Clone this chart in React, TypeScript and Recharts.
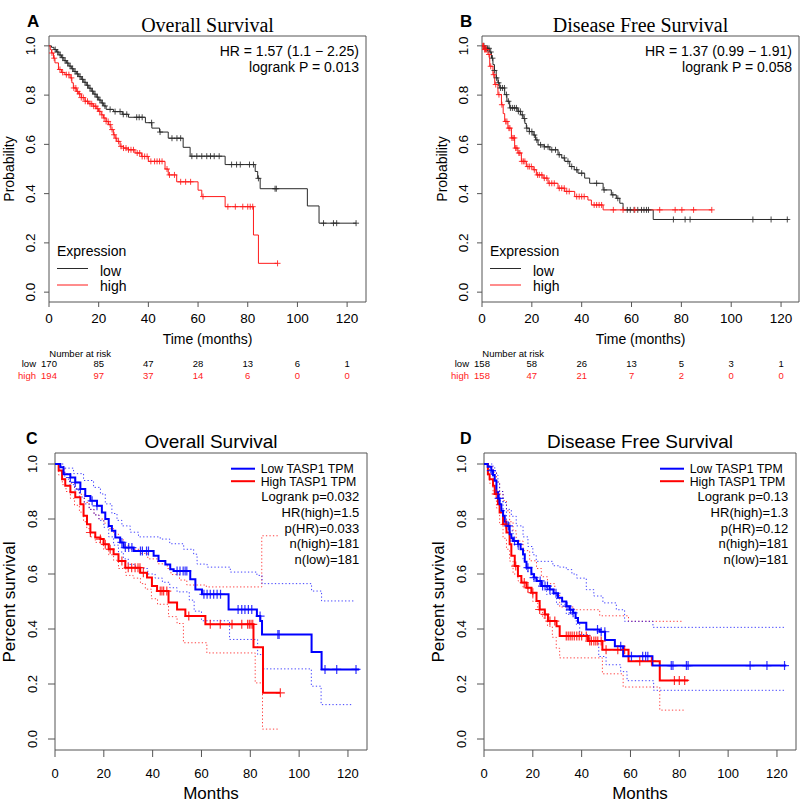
import React from 'react';
import { ComposedChart, Line, XAxis, YAxis, ReferenceArea } from 'recharts';

type Pt = [number, number];

const FONT = '"Liberation Sans", Arial, sans-serif';
const SERIF = '"Liberation Serif", "Times New Roman", serif';

const monthTicks = [0, 20, 40, 60, 80, 100, 120];
const probTicks = [0, 0.2, 0.4, 0.6, 0.8, 1.0];

// ---------- Panel A: Overall Survival (KM plotter) ----------
const aLowSteps: Pt[] = [[0,1],[1,0.994],[2,0.985],[3,0.975],[4,0.963],[5,0.952],[6,0.94],[7,0.93],[8,0.918],[9,0.907],[10,0.896],[11,0.886],[12,0.875],[13,0.864],[14,0.852],[15,0.84],[16,0.828],[17,0.816],[18,0.804],[19,0.792],[20,0.78],[21,0.768],[22,0.756],[23,0.742],[26,0.733],[29.5,0.722],[32,0.71],[38.8,0.688],[41.4,0.666],[44.5,0.65],[48,0.625],[54,0.588],[56.8,0.552],[70.9,0.518],[83,0.49],[84,0.462],[85,0.42],[104,0.35],[108.7,0.28],[123.6,0.28]];
const aLowCensor = [2.5,3.5,4.5,5.5,6.5,7.5,8.5,9.5,10.5,11.5,12.5,13.5,14.5,15.5,16.5,17.5,18.5,19.5,20.5,21.5,22.5,24.6,26.6,28.6,29.9,31.3,35.3,36.3,37.5,41.3,44.7,49.5,51.5,53,57.5,59.5,61.5,63.5,65,66.5,68.5,73.5,75.5,77,80.7,82.3,84.3,91,91.5,110.5,114.5,115.8,123.6];
const aHighSteps: Pt[] = [[0,1],[0.5,0.985],[1,0.971],[1.8,0.95],[2.4,0.931],[3.8,0.904],[5,0.892],[6.4,0.883],[8.5,0.87],[9.2,0.85],[9.8,0.829],[11,0.815],[11.8,0.805],[13,0.79],[14.5,0.775],[16,0.765],[17.8,0.755],[19,0.745],[19.9,0.734],[21,0.72],[21.9,0.707],[23,0.693],[23.9,0.68],[24.9,0.66],[25.9,0.639],[26.6,0.625],[27.3,0.612],[28.6,0.592],[30,0.585],[31.9,0.578],[34.6,0.565],[37.3,0.551],[40,0.531],[46.7,0.5],[48,0.476],[51.4,0.448],[60,0.414],[61.5,0.388],[70.9,0.347],[82.3,0.232],[84.3,0.117],[91.7,0.117]];
const aHighCensor = [1.2,2.1,4.4,5.5,7,8,9,10,10.8,11.5,12.3,13,13.8,14.6,15.5,16.5,17.2,18,18.8,19.6,20.4,21.3,22.2,23,23.8,24.6,25.4,26.2,27,28,29,30,31,32,33,34,35.5,36.5,37.5,38.5,39.5,41,42.5,43.5,44.5,45.5,47.5,48.5,50.5,53,55,57,62,72,75,78,80,81,82,92];
const aRiskLow = [170, 85, 47, 28, 13, 6, 1];
const aRiskHigh = [194, 97, 37, 14, 6, 0, 0];

// ---------- Panel B: Disease Free Survival (KM plotter) ----------
const bLowSteps: Pt[] = [[0,1],[1,0.99],[3.1,0.975],[3.8,0.95],[4.4,0.924],[5,0.9],[5.7,0.87],[6.4,0.85],[7.1,0.829],[9.1,0.802],[10,0.775],[11.1,0.748],[14.4,0.734],[15.5,0.72],[16.5,0.705],[17.2,0.685],[17.8,0.666],[19,0.652],[20.5,0.638],[21.5,0.618],[22.5,0.598],[25,0.59],[27.2,0.578],[30.5,0.558],[32,0.545],[33.2,0.531],[35.2,0.51],[37,0.497],[38.5,0.483],[41.2,0.463],[43.2,0.442],[48.6,0.415],[51.9,0.395],[53.9,0.381],[55.3,0.361],[56.6,0.334],[68.7,0.295],[123.1,0.295]];
const bLowCensor = [0.8,1.5,2.2,2.8,3.5,4.2,5,5.8,6.6,7.4,8.2,9,9.8,10.6,11.4,12.2,13,13.8,14.6,15.4,16.2,17,18,19,20,21,22,23.5,25,26.5,28,29.5,31,33,34.5,36,38,40,46,49,52.5,54.5,58.3,59.5,61,62.5,64,65,66,66.8,76.8,81.5,83.5,108.7,116,122.5];
const bHighSteps: Pt[] = [[0,1],[1,0.985],[2.4,0.965],[3.1,0.917],[4.4,0.883],[5.1,0.843],[6.4,0.802],[7.8,0.761],[8.5,0.725],[9.1,0.693],[10.4,0.666],[11.8,0.626],[13.1,0.585],[14.4,0.565],[15.8,0.531],[17.8,0.51],[20.5,0.497],[21.8,0.476],[24.5,0.463],[26.5,0.442],[30.5,0.422],[33.2,0.409],[37.2,0.388],[42.5,0.374],[43.9,0.354],[48.6,0.334],[92.2,0.334]];
const bHighCensor = [0.3,0.6,1,1.4,1.8,2.8,3.5,4.7,5.5,6.8,8,9.5,10,10.8,11.2,12,12.5,13,13.5,14,14.8,15.2,16,16.6,17.2,18.4,19,19.8,21,22.3,23,24,25,26,27,28,29,31,32,33,34,35,38,39,40,41,45,46,47,48,52.7,56.6,61.3,71.3,77.5,80.2,84.9,92.2];
const bRiskLow = [158, 58, 26, 13, 5, 3, 1];
const bRiskHigh = [158, 47, 21, 7, 2, 0, 0];

// ---------- Panel C: Overall Survival (GEPIA) ----------
const cLowSteps: Pt[] = [[0,1],[2.2,0.988],[3.5,0.963],[6.3,0.951],[8.3,0.933],[10.4,0.909],[12.4,0.884],[14.5,0.866],[17.2,0.848],[19.2,0.824],[20.6,0.8],[22,0.775],[23.3,0.757],[24.7,0.733],[26.7,0.715],[28.1,0.696],[32.2,0.684],[40.4,0.666],[42.4,0.647],[45.2,0.635],[47.2,0.617],[48.6,0.611],[55.4,0.581],[57.5,0.544],[60.2,0.526],[71.1,0.471],[82.7,0.447],[84.1,0.429],[84.8,0.38],[105.1,0.316],[109.2,0.253],[124.6,0.253]];
const cLowCensor = [6.3,8.3,10.4,15.2,17.2,27.4,28.8,30.2,31.5,35,35.8,37.5,38.3,50,51.2,52.5,53.3,54,61,62.3,63.6,65,66.4,67.8,75,76.5,77.8,79.2,80.6,84,91.3,91.8,110.6,115.4,123.3];
const cHighSteps: Pt[] = [[0,1],[1.5,0.976],[2.9,0.945],[4.2,0.921],[6.3,0.897],[8.3,0.879],[10.4,0.854],[11.7,0.812],[13.1,0.781],[14.5,0.751],[16.5,0.733],[18.6,0.727],[19.9,0.708],[22,0.69],[24,0.672],[26,0.647],[28.8,0.623],[34.9,0.605],[37.7,0.587],[39.7,0.556],[41.8,0.538],[46.5,0.496],[50,0.471],[53.4,0.447],[61.6,0.417],[81.3,0.334],[85.2,0.168],[92.3,0.168]];
const cHighCensor = [14.5,18.6,20.6,22.6,27.4,30,31.4,32.8,34,34.8,36.2,43.1,43.8,44.5,45.8,54.8,63.6,67.7,72.5,76.5,78.9,79.6,80.3,81,92.3];
const cLowUpper: Pt[] = [[0,1],[3.5,0.985],[7.6,0.965],[11.7,0.94],[15.8,0.915],[18.6,0.891],[20.6,0.855],[23.3,0.82],[25.4,0.795],[27.4,0.775],[30.8,0.752],[34.2,0.735],[43.1,0.727],[47,0.71],[52.7,0.69],[56.8,0.672],[58.2,0.636],[62.3,0.625],[71.8,0.607],[82.7,0.595],[84.8,0.565],[105.1,0.538],[109.2,0.502],[123,0.502]];
const cLowLower: Pt[] = [[0,1],[2,0.975],[4,0.945],[6,0.925],[8,0.905],[10,0.88],[12,0.855],[14,0.835],[16,0.815],[18,0.795],[20,0.77],[22,0.735],[24,0.705],[26,0.68],[28,0.655],[30,0.635],[33,0.62],[38,0.6],[41,0.585],[44,0.57],[47,0.55],[50,0.535],[55,0.505],[57,0.465],[60,0.43],[71.5,0.362],[83,0.307],[85,0.255],[105,0.192],[109,0.125],[122,0.125]];
const cHighUpper: Pt[] = [[0,1],[2,0.99],[4,0.965],[6,0.93],[8,0.91],[10,0.89],[12,0.86],[14,0.835],[16,0.815],[18,0.8],[20,0.785],[22,0.765],[24,0.745],[26,0.725],[28,0.705],[30,0.69],[35,0.675],[38,0.655],[42,0.637],[46,0.62],[47.5,0.598],[51,0.578],[54,0.56],[62,0.553],[84.7,0.739],[91.5,0.739]];
const cHighLower: Pt[] = [[0,1],[1.5,0.96],[3,0.925],[4.5,0.9],[6.3,0.875],[8,0.85],[10,0.825],[11.7,0.79],[13,0.765],[14.5,0.735],[16.5,0.715],[19.9,0.69],[22,0.67],[24,0.65],[26,0.62],[29,0.595],[32,0.585],[35,0.565],[37,0.545],[39.5,0.51],[42,0.49],[46.5,0.445],[50,0.42],[52.6,0.35],[62.2,0.313],[82,0.204],[85,0.036],[91.5,0.036]];
const cStats = ['Logrank p=0.032', 'HR(high)=1.5', 'p(HR)=0.033', 'n(high)=181', 'n(low)=181'];

// ---------- Panel D: Disease Free Survival (GEPIA) ----------
const dLowSteps: Pt[] = [[0,1],[1.5,0.99],[3,0.976],[3.7,0.96],[4.4,0.939],[5.1,0.897],[5.8,0.875],[6.4,0.854],[7.1,0.83],[7.8,0.812],[8.5,0.79],[9.2,0.775],[10.5,0.745],[11.2,0.73],[11.9,0.72],[13.9,0.708],[15,0.69],[16,0.672],[16.7,0.645],[17.4,0.623],[19.4,0.599],[20.5,0.587],[21.5,0.575],[23.5,0.556],[26.9,0.544],[28.5,0.53],[30.3,0.514],[32,0.5],[33.7,0.483],[35,0.47],[36.5,0.459],[37.5,0.44],[38.5,0.423],[41.9,0.398],[47.4,0.39],[49.6,0.36],[53.6,0.337],[57,0.301],[69,0.267],[123.8,0.267]];
const dLowCensor = [3,6.2,10,12.5,14,18,20.5,23,24,25,26,27,29.5,34,35.5,36.5,46.5,48,49.5,56,60.4,65,66.2,67.1,76.7,77.4,82.9,83.6,109,115.9,123.1];
const dHighSteps: Pt[] = [[0,1],[1.6,0.963],[2.3,0.945],[3.7,0.921],[4.4,0.891],[5.7,0.854],[6.4,0.824],[7.8,0.781],[9.2,0.751],[10.5,0.708],[11.2,0.666],[12.6,0.629],[13.9,0.593],[15.3,0.569],[17.4,0.55],[19.4,0.532],[21.5,0.502],[22.8,0.471],[24.9,0.453],[26.2,0.429],[29.7,0.41],[31,0.375],[42.6,0.356],[48.5,0.325],[59.2,0.283],[72,0.213],[83.6,0.213]];
const dHighCensor = [5,9,13,16.5,18,20,22.8,25,27,29,33.7,34.5,35.3,36.1,37,38,39,40,41.9,43.3,44,45,45.8,46.6,48,50,54.8,57.6,63.8,68.6,78,80,82.2];
const dLowUpper: Pt[] = [[0,1],[3.7,0.99],[4.4,0.975],[5.1,0.96],[5.7,0.93],[6.4,0.9],[7.8,0.86],[9.2,0.835],[11.2,0.81],[13.2,0.775],[16,0.735],[18,0.7],[20,0.67],[21.4,0.646],[28.2,0.63],[31,0.625],[33.7,0.616],[36,0.6],[38,0.585],[41.9,0.543],[45,0.52],[48.7,0.495],[54.2,0.47],[57.6,0.428],[69.2,0.406],[123,0.406]];
const dLowLower: Pt[] = [[0,1],[2.3,0.97],[3.7,0.945],[5.1,0.9],[6.4,0.866],[7.8,0.83],[9.2,0.787],[10.5,0.757],[11.9,0.72],[13.9,0.69],[16,0.648],[17.4,0.61],[20,0.58],[22.8,0.556],[25.6,0.526],[29.7,0.49],[33.7,0.453],[37.8,0.417],[39.2,0.38],[43.3,0.356],[47,0.3],[50,0.27],[56,0.245],[58.6,0.212],[69.5,0.177],[123,0.177]];
const dHighUpper: Pt[] = [[0,1],[2,0.99],[3.7,0.97],[5.1,0.935],[6.4,0.9],[7.8,0.867],[9.2,0.83],[10.5,0.79],[11.9,0.757],[13.2,0.72],[16,0.685],[18.7,0.648],[21.5,0.62],[23.5,0.59],[26,0.565],[29,0.53],[31,0.48],[36.9,0.47],[47.4,0.448],[59.2,0.428],[81.5,0.428]];
const dHighLower: Pt[] = [[0,1],[1.6,0.955],[2.3,0.93],[3.7,0.89],[5.1,0.84],[6.4,0.78],[7.8,0.73],[9.2,0.69],[10.5,0.647],[11.9,0.6],[13.9,0.575],[16,0.55],[18,0.53],[20,0.5],[22,0.47],[24,0.44],[26,0.41],[28,0.37],[29.6,0.33],[31,0.295],[48.5,0.237],[57,0.189],[72,0.105],[82,0.105]];
const dStats = ['Logrank p=0.13', 'HR(high)=1.3', 'p(HR)=0.12', 'n(high)=181', 'n(low)=181'];

// ---------- helpers ----------
const toXY = (steps: Pt[]) => steps.map(([x, y]) => ({ x, y }));
const survAt = (steps: Pt[], t: number) => {
  let v = steps[0][1];
  for (const [x, y] of steps) {
    if (x <= t) v = y;
    else break;
  }
  return v;
};
const censorPts = (steps: Pt[], times: number[]) => times.map((t) => ({ x: t, y: survAt(steps, t) }));

const plusDot = (color: string, r: number, w: number, opacity: number) => (props: any) => {
  const { cx, cy, index } = props;
  if (cx == null || cy == null || isNaN(cx) || isNaN(cy)) return <g key={`e${index}`} />;
  return (
    <path
      key={`p${index}`}
      d={`M${cx - r},${cy}H${cx + r}M${cx},${cy - r}V${cy + r}`}
      stroke={color}
      strokeWidth={w}
      strokeOpacity={opacity}
      fill="none"
    />
  );
};

interface Curve { steps: Pt[]; censor: number[]; color: string; width: number; plusR: number; plusW: number; plusOp: number; }
interface Band { steps: Pt[]; color: string; }

interface PanelProps {
  left: number; top: number; width: number; height: number;
  margin: { top: number; right: number; bottom: number; left: number };
  yAxisWidth: number; xAxisHeight: number; xMax: number;
  curves: Curve[]; bands: Band[];
  tickSize: number; xTickMargin: number; yLabelOffset: number; tickFont: number; boxColor: string;
}

function KMPanel(p: PanelProps) {
  const RotTick = (tp: any) => {
    const x = tp.x - p.yLabelOffset;
    const y = tp.y;
    return (
      <text x={x} y={y} transform={`rotate(-90 ${x} ${y})`} textAnchor="middle" fontSize={p.tickFont} fill="#000" fontFamily={FONT}>
        {Number(tp.payload.value).toFixed(1)}
      </text>
    );
  };
  return (
    <div style={{ position: 'absolute', left: p.left, top: p.top }}>
      <ComposedChart width={p.width} height={p.height} margin={p.margin}>
        <XAxis
          type="number"
          dataKey="x"
          domain={[0, p.xMax]}
          ticks={monthTicks}
          interval={0}
          allowDataOverflow
          axisLine={false}
          tickSize={p.tickSize}
          tickMargin={p.xTickMargin}
          tickLine={{ stroke: p.boxColor }}
          tick={{ fontSize: p.tickFont, fill: '#000', fontFamily: FONT }}
          height={p.xAxisHeight}
        />
        <YAxis
          type="number"
          dataKey="y"
          domain={[-0.04, 1.04]}
          ticks={probTicks}
          interval={0}
          allowDataOverflow
          axisLine={false}
          tickSize={p.tickSize}
          tickMargin={2}
          tickLine={{ stroke: p.boxColor }}
          width={p.yAxisWidth}
          tick={RotTick}
        />
        <ReferenceArea x1={0} x2={p.xMax} y1={-0.04} y2={1.04} fill="none" fillOpacity={0} stroke={p.boxColor} strokeWidth={1} ifOverflow="visible" />
        {p.bands.map((b, i) => (
          <Line
            key={`band${i}`}
            data={toXY(b.steps)}
            dataKey="y"
            type="stepAfter"
            stroke={b.color}
            strokeWidth={1}
            strokeOpacity={0.75}
            strokeDasharray="1.3 2.2"
            dot={false}
            activeDot={false}
            isAnimationActive={false}
          />
        ))}
        {p.curves.map((c, i) => (
          <Line
            key={`curve${i}`}
            data={toXY(c.steps)}
            dataKey="y"
            type="stepAfter"
            stroke={c.color}
            strokeWidth={c.width}
            dot={false}
            activeDot={false}
            isAnimationActive={false}
          />
        ))}
        {p.curves.map((c, i) => (
          <Line
            key={`cens${i}`}
            data={censorPts(c.steps, c.censor)}
            dataKey="y"
            stroke="none"
            dot={plusDot(c.color, c.plusR, c.plusW, c.plusOp)}
            activeDot={false}
            isAnimationActive={false}
          />
        ))}
      </ComposedChart>
    </div>
  );
}

// geometry for overlay text (plot-area based)
const A_LEFT = 49, A_W = 317, A_XMAX = 127.6;
const B_LEFT = 482, B_W = 317, B_XMAX = 127.2;
const xA = (m: number) => A_LEFT + (m * A_W) / A_XMAX;
const xB = (m: number) => B_LEFT + (m * B_W) / B_XMAX;

const KM_BLACK = '#2a2a2a';
const KM_RED = '#ff1a1a';
const BOX = '#555';

function KMText({ dx, label, title, hr, p, riskLow, riskHigh, xf }: any) {
  return (
    <g fontFamily={FONT} fill="#000">
      <text x={27 + dx} y={27} fontSize={17} fontWeight="bold">{label}</text>
      <text x={207.5 + dx} y={31.5} fontSize={20} fontFamily={SERIF} textAnchor="middle">{title}</text>
      <text x={359 + dx} y={56} fontSize={14} textAnchor="end">{hr}</text>
      <text x={359 + dx} y={72} fontSize={14} textAnchor="end">{p}</text>
      <text x={13.5 + dx} y={169} fontSize={14} textAnchor="middle" transform={`rotate(-90 ${13.5 + dx} 169)`}>Probability</text>
      <text x={57 + dx} y={255.5} fontSize={14}>Expression</text>
      <line x1={57 + dx} x2={88 + dx} y1={268.5} y2={268.5} stroke={KM_BLACK} strokeWidth={1} />
      <text x={100 + dx} y={276} fontSize={14}>low</text>
      <line x1={57 + dx} x2={88 + dx} y1={285} y2={285} stroke={KM_RED} strokeWidth={1} />
      <text x={100 + dx} y={290.5} fontSize={14}>high</text>
      <text x={207.5 + dx} y={344} fontSize={14} textAnchor="middle">Time (months)</text>
      <text x={49.3 + dx} y={356.5} fontSize={9.5}>Number at risk</text>
      <text x={36 + dx} y={367.3} fontSize={9.5} textAnchor="end">low</text>
      <text x={36 + dx} y={378.7} fontSize={9.5} textAnchor="end" fill={KM_RED}>high</text>
      {monthTicks.map((t, i) => (
        <text key={`rl${i}`} x={xf(t)} y={367.3} fontSize={9.5} textAnchor="middle">{riskLow[i]}</text>
      ))}
      {monthTicks.map((t, i) => (
        <text key={`rh${i}`} x={xf(t)} y={378.7} fontSize={9.5} textAnchor="middle" fill={KM_RED}>{riskHigh[i]}</text>
      ))}
    </g>
  );
}

function GText({ dx, labelX, label, title, stats }: any) {
  return (
    <g fontFamily={FONT} fill="#000">
      <text x={labelX} y={444} fontSize={16} fontWeight="bold">{label}</text>
      <text x={211 + dx} y={448.3} fontSize={19} textAnchor="middle">{title}</text>
      <line x1={231 + dx} x2={255 + dx} y1={468.7} y2={468.7} stroke="#0000ff" strokeWidth={2} />
      <line x1={231 + dx} x2={255 + dx} y1={481.2} y2={481.2} stroke="#ff0000" strokeWidth={2} />
      <text x={260.7 + dx} y={472.8} fontSize={12.3}>Low TASP1 TPM</text>
      <text x={260.7 + dx} y={486.2} fontSize={12.3}>High TASP1 TPM</text>
      {stats.map((s: string, i: number) => (
        <text key={`s${i}`} x={359.3 + dx} y={501.4 + i * 15.55} fontSize={13} textAnchor="end">{s}</text>
      ))}
      <text x={14.5 + dx} y={602} fontSize={17} textAnchor="middle" transform={`rotate(-90 ${14.5 + dx} 602)`}>Percent survival</text>
      <text x={211 + dx} y={799} fontSize={17} textAnchor="middle">Months</text>
    </g>
  );
}

export default function App() {
  const kmCurves = (low: Pt[], lowC: number[], high: Pt[], highC: number[]): Curve[] => [
    { steps: low, censor: lowC, color: KM_BLACK, width: 1, plusR: 3, plusW: 1, plusOp: 0.85 },
    { steps: high, censor: highC, color: KM_RED, width: 1, plusR: 3, plusW: 1, plusOp: 0.85 },
  ];
  const gCurves = (low: Pt[], lowC: number[], high: Pt[], highC: number[]): Curve[] => [
    { steps: high, censor: highC, color: '#ff0000', width: 2, plusR: 4.5, plusW: 1.2, plusOp: 0.8 },
    { steps: low, censor: lowC, color: '#0000ff', width: 2, plusR: 4.5, plusW: 1.2, plusOp: 0.8 },
  ];
  return (
    <div style={{ position: 'absolute', left: 0, top: 0, width: 800, height: 803, overflow: 'hidden', background: '#fff' }}>
      <KMPanel
        left={0} top={0} width={400} height={335}
        margin={{ top: 36, right: 34, bottom: 3, left: 0 }}
        yAxisWidth={49} xAxisHeight={30} xMax={A_XMAX}
        curves={kmCurves(aLowSteps, aLowCensor, aHighSteps, aHighCensor)} bands={[]}
        tickSize={5} xTickMargin={6} yLabelOffset={7} tickFont={13.5} boxColor={BOX}
      />
      <KMPanel
        left={433} top={0} width={367} height={335}
        margin={{ top: 36, right: 1, bottom: 3, left: 0 }}
        yAxisWidth={49} xAxisHeight={30} xMax={B_XMAX}
        curves={kmCurves(bLowSteps, bLowCensor, bHighSteps, bHighCensor)} bands={[]}
        tickSize={5} xTickMargin={6} yLabelOffset={7} tickFont={13.5} boxColor={BOX}
      />
      <KMPanel
        left={0} top={410} width={400} height={393}
        margin={{ top: 43, right: 33, bottom: 23, left: 0 }}
        yAxisWidth={55} xAxisHeight={30} xMax={127.8}
        curves={gCurves(cLowSteps, cLowCensor, cHighSteps, cHighCensor)}
        bands={[
          { steps: cHighUpper, color: '#ff0000' },
          { steps: cHighLower, color: '#ff0000' },
          { steps: cLowUpper, color: '#0000ff' },
          { steps: cLowLower, color: '#0000ff' },
        ]}
        tickSize={7} xTickMargin={12} yLabelOffset={9.5} tickFont={13} boxColor={BOX}
      />
      <KMPanel
        left={429} top={410} width={371} height={393}
        margin={{ top: 43, right: 4, bottom: 23, left: 0 }}
        yAxisWidth={55} xAxisHeight={30} xMax={127.8}
        curves={gCurves(dLowSteps, dLowCensor, dHighSteps, dHighCensor)}
        bands={[
          { steps: dHighUpper, color: '#ff0000' },
          { steps: dHighLower, color: '#ff0000' },
          { steps: dLowUpper, color: '#0000ff' },
          { steps: dLowLower, color: '#0000ff' },
        ]}
        tickSize={7} xTickMargin={12} yLabelOffset={9.5} tickFont={13} boxColor={BOX}
      />
      <svg width={800} height={803} style={{ position: 'absolute', left: 0, top: 0, pointerEvents: 'none' }}>
        <KMText dx={0} label="A" title="Overall Survival" hr="HR = 1.57 (1.1 − 2.25)" p="logrank P = 0.013" riskLow={aRiskLow} riskHigh={aRiskHigh} xf={xA} />
        <KMText dx={433} label="B" title="Disease Free Survival" hr="HR = 1.37 (0.99 − 1.91)" p="logrank P = 0.058" riskLow={bRiskLow} riskHigh={bRiskHigh} xf={xB} />
        <GText dx={0} labelX={26} label="C" title="Overall Survival" stats={cStats} />
        <GText dx={429} labelX={460} label="D" title="Disease Free Survival" stats={dStats} />
      </svg>
    </div>
  );
}
